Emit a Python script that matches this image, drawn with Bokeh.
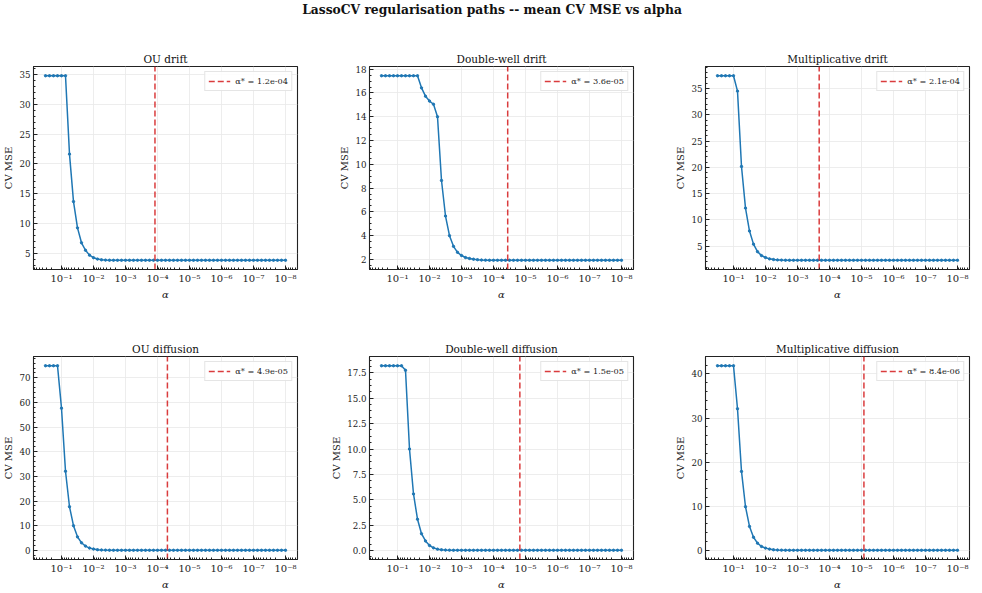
import numpy as np
from bokeh.plotting import figure
from bokeh.models import (Range1d, FixedTicker, SingleIntervalTicker, CustomJSTickFormatter,
                          PrintfTickFormatter, Legend, LegendItem, Div)
from bokeh.layouts import column, row
from bokeh.embed import file_html
from bokeh.resources import INLINE

# ---------------- data ----------------
alphas = np.logspace(-0.5, -8, 61)

titles = ["OU drift", "Double-well drift", "Multiplicative drift",
          "OU diffusion", "Double-well diffusion", "Multiplicative diffusion"]

alpha_star = [1.2e-04, 3.6e-05, 2.1e-04, 4.9e-05, 1.5e-05, 8.4e-06]

ou_drift = [34.78, 34.78, 34.78, 34.78, 34.78, 34.78,
            21.65, 13.70, 9.30, 6.80, 5.55, 4.73, 4.30, 4.07, 3.95, 3.90,
            3.88, 3.87, 3.87, 3.87, 3.87, 3.87, 3.87, 3.87, 3.87, 3.87,
            3.87, 3.87, 3.87, 3.87, 3.87, 3.87, 3.87, 3.87, 3.87, 3.87,
            3.87, 3.87, 3.87, 3.87, 3.87, 3.87, 3.87, 3.87, 3.87, 3.87,
            3.87, 3.87, 3.87, 3.87, 3.87, 3.87, 3.87, 3.87, 3.87, 3.87,
            3.87, 3.87, 3.87, 3.87, 3.87]

dw_drift = [17.45, 17.45, 17.45, 17.45, 17.45, 17.45, 17.45, 17.45, 17.45, 17.45,
            16.43, 15.73, 15.32, 15.05, 14.00, 8.64, 5.65, 4.00, 3.10, 2.60,
            2.33, 2.16, 2.08, 2.02, 1.98, 1.95, 1.94,
            1.93, 1.93, 1.93, 1.93, 1.93, 1.93, 1.93, 1.93, 1.93, 1.93,
            1.93, 1.93, 1.93, 1.93, 1.93, 1.93, 1.93, 1.93, 1.93, 1.93,
            1.93, 1.93, 1.93, 1.93, 1.93, 1.93, 1.93, 1.93, 1.93, 1.93,
            1.93, 1.93, 1.93, 1.93]

mult_drift = [37.43, 37.43, 37.43, 37.43, 37.43,
              34.50, 20.15, 12.23, 7.87, 5.37, 3.94, 3.19, 2.82, 2.57, 2.44,
              2.37, 2.33, 2.31,
              2.30, 2.30, 2.30, 2.30, 2.30, 2.30, 2.30, 2.30, 2.30, 2.30,
              2.30, 2.30, 2.30, 2.30, 2.30, 2.30, 2.30, 2.30, 2.30, 2.30,
              2.30, 2.30, 2.30, 2.30, 2.30, 2.30, 2.30, 2.30, 2.30, 2.30,
              2.30, 2.30, 2.30, 2.30, 2.30, 2.30, 2.30, 2.30, 2.30, 2.30,
              2.30, 2.30, 2.30]

ou_diff = [74.93, 74.93, 74.93, 74.93,
           57.70, 32.10, 17.70, 10.00, 5.47, 3.07, 1.73, 0.93, 0.53, 0.27,
           0.15, 0.09, 0.06, 0.04,
           0.03, 0.03, 0.03, 0.03, 0.03, 0.03, 0.03, 0.03, 0.03, 0.03,
           0.03, 0.03, 0.03, 0.03, 0.03, 0.03, 0.03, 0.03, 0.03, 0.03,
           0.03, 0.03, 0.03, 0.03, 0.03, 0.03, 0.03, 0.03, 0.03, 0.03,
           0.03, 0.03, 0.03, 0.03, 0.03, 0.03, 0.03, 0.03, 0.03, 0.03,
           0.03, 0.03, 0.03]

dw_diff = [18.21, 18.21, 18.21, 18.21, 18.21, 18.21,
           17.76, 10.00, 5.57, 3.08, 1.65, 0.94, 0.49, 0.26, 0.13, 0.07,
           0.04, 0.03,
           0.02, 0.02, 0.02, 0.02, 0.02, 0.02, 0.02, 0.02, 0.02, 0.02,
           0.02, 0.02, 0.02, 0.02, 0.02, 0.02, 0.02, 0.02, 0.02, 0.02,
           0.02, 0.02, 0.02, 0.02, 0.02, 0.02, 0.02, 0.02, 0.02, 0.02,
           0.02, 0.02, 0.02, 0.02, 0.02, 0.02, 0.02, 0.02, 0.02, 0.02,
           0.02, 0.02, 0.02]

mult_diff = [41.86, 41.86, 41.86, 41.86, 41.86,
             32.10, 17.90, 9.90, 5.44, 2.98, 1.64, 0.89, 0.52, 0.30, 0.15,
             0.09, 0.06, 0.04,
             0.03, 0.03, 0.03, 0.03, 0.03, 0.03, 0.03, 0.03, 0.03, 0.03,
             0.03, 0.03, 0.03, 0.03, 0.03, 0.03, 0.03, 0.03, 0.03, 0.03,
             0.03, 0.03, 0.03, 0.03, 0.03, 0.03, 0.03, 0.03, 0.03, 0.03,
             0.03, 0.03, 0.03, 0.03, 0.03, 0.03, 0.03, 0.03, 0.03, 0.03,
             0.03, 0.03, 0.03]

series = [ou_drift, dw_drift, mult_drift, ou_diff, dw_diff, mult_diff]
y_intervals = [5, 2, 5, 10, 2.5, 10]
y_minor = [5, 4, 5, 5, 4, 5]
y_formats = ["%d", "%d", "%d", "%d", "%.1f", "%d"]

x_major = [1e-1, 1e-2, 1e-3, 1e-4, 1e-5, 1e-6, 1e-7, 1e-8]

# ---------------- style ----------------
FONT = "DejaVu Serif"
BLUE = "#1f77b4"
RED = "#d62728"

lo, hi = np.log10(alphas.min()), np.log10(alphas.max())
pad = 0.05 * (hi - lo)
x_start, x_end = 10 ** (hi + pad), 10 ** (lo - pad)

minor = []
for e in range(0, -10, -1):
    for m in range(2, 10):
        v = m * 10.0 ** e
        if x_end <= v <= x_start:
            minor.append(v)

sup_fmt = CustomJSTickFormatter(code="""
const sup = {"-":"\u207b","0":"\u2070","1":"\u00b9","2":"\u00b2","3":"\u00b3","4":"\u2074",
             "5":"\u2075","6":"\u2076","7":"\u2077","8":"\u2078","9":"\u2079"};
const e = Math.round(Math.log10(tick));
return "10" + String(e).split("").map(c => sup[c]).join("");
""")

FRAME_W, FRAME_H = 264, 203
borders_lr = [(29, 27), (45, 27), (45, 2)]


def make_panel(i):
    col = i % 3
    top_row = i < 3
    y = series[i]
    ymin, ymax = min(y), max(y)
    ypad = 0.05 * (ymax - ymin)
    y0, y1 = ymin - ypad, ymax + ypad
    bl, br = borders_lr[col]
    p = figure(x_axis_type="log", x_range=Range1d(x_start, x_end), y_range=Range1d(y0, y1),
               frame_width=FRAME_W, frame_height=FRAME_H,
               min_border_left=bl, min_border_right=br,
               min_border_top=46 if top_row else 54,
               min_border_bottom=30 if top_row else 27,
               output_backend="svg", toolbar_location=None,
               background_fill_color="white", border_fill_color="white")
    p.title.text = titles[i]
    p.title.text_font = FONT
    p.title.text_font_size = "10.5px"
    p.title.text_font_style = "normal"
    p.title.align = "center"
    p.title.standoff = 4
    p.title.text_color = "#111111"

    p.outline_line_color = "#222222"
    p.outline_line_width = 1.1

    p.xaxis.ticker = FixedTicker(ticks=x_major, minor_ticks=minor)
    p.xaxis.formatter = sup_fmt
    p.yaxis.ticker = SingleIntervalTicker(interval=y_intervals[i], num_minor_ticks=y_minor[i])
    p.yaxis.formatter = PrintfTickFormatter(format=y_formats[i])
    p.xaxis.axis_label = "α"
    p.yaxis.axis_label = "CV MSE"
    for ax in (p.xaxis, p.yaxis):
        ax.axis_label_text_font = FONT
        ax.axis_label_text_font_size = "10px"
        ax.axis_label_text_font_style = "normal"
        ax.major_label_text_font = FONT
        ax.major_label_text_font_size = "8.7px"
        ax.major_label_text_color = "#222222"
        ax.axis_label_text_color = "#222222"
        ax.major_tick_in = 4
        ax.major_tick_out = 0
        ax.minor_tick_in = 2
        ax.minor_tick_out = 0
        ax.major_tick_line_color = "#222222"
        ax.minor_tick_line_color = "#222222"
        ax.axis_line_color = "#222222"
        ax.major_label_standoff = 3
        ax.axis_label_standoff = 2
    p.xaxis.major_label_text_font_size = "10px"
    p.xaxis.axis_label_text_font_style = "italic"

    p.xgrid.grid_line_color = "#e8e8e8"
    p.ygrid.grid_line_color = "#e8e8e8"
    p.xgrid.grid_line_width = 0.8
    p.ygrid.grid_line_width = 0.8

    p.line(alphas, y, line_color=BLUE, line_width=1.5)
    p.scatter(alphas, y, size=2.4, color=BLUE)
    vl = p.line([alpha_star[i], alpha_star[i]], [y0, y1], line_color=RED, line_width=1.5,
                line_dash="6 3", line_alpha=0.9)

    leg = Legend(items=[LegendItem(label="α* = %.1e" % alpha_star[i], renderers=[vl])],
                 location="top_right")
    leg.label_text_font = FONT
    leg.label_text_font_size = "8.2px"
    leg.label_text_color = "#222222"
    leg.glyph_width = 22
    leg.glyph_height = 12
    leg.label_height = 12
    leg.label_standoff = 5
    leg.padding = 3
    leg.margin = 5
    leg.spacing = 0
    leg.border_line_color = "#cccccc"
    leg.background_fill_alpha = 0.85
    p.add_layout(leg)
    return p


panels = [make_panel(i) for i in range(6)]

title_div = Div(text='<div style="position:relative;left:9px;width:966px;text-align:center;'
                     'font-family:\'DejaVu Serif\';font-weight:bold;font-size:12.3px;'
                     'line-height:14px;padding-top:3px;color:#111;">'
                     'LassoCV regularisation paths -- mean CV MSE vs alpha</div>',
                width=966, height=20, margin=0,
                styles={"text-align": "center", "width": "966px"})

layout = column(title_div, row(*panels[:3]), row(*panels[3:]))

open("out.html", "w").write(file_html(layout, INLINE))
